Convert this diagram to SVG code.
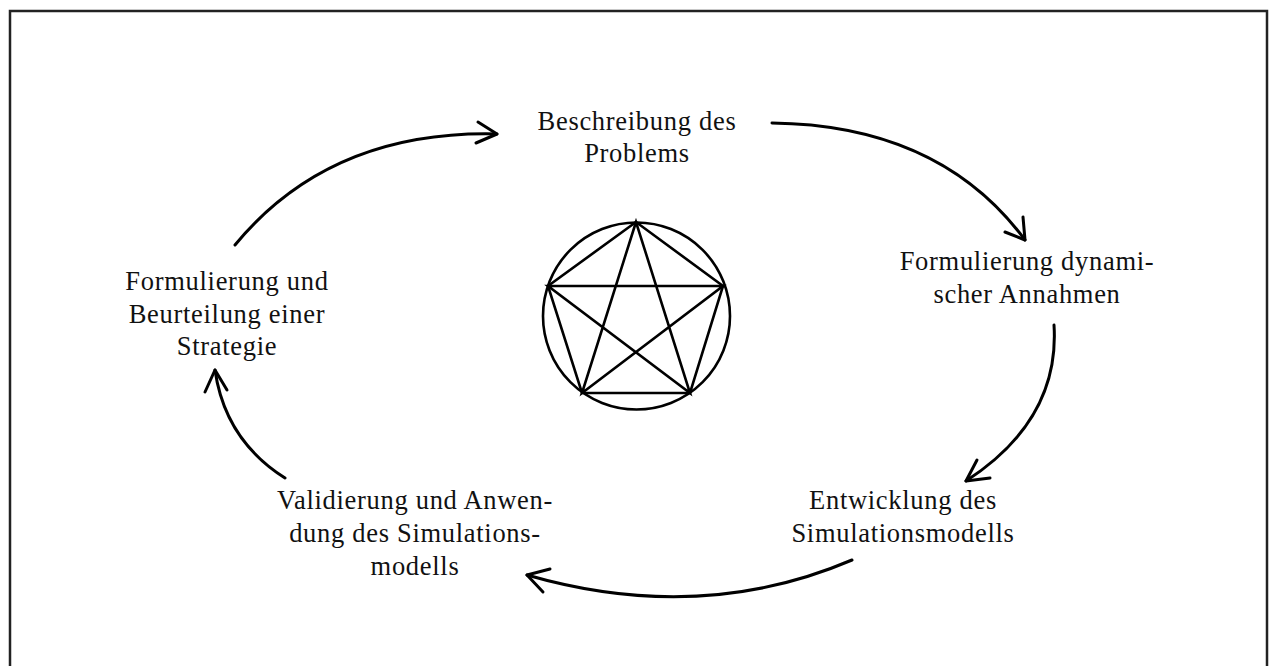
<svg xmlns="http://www.w3.org/2000/svg" width="1269" height="666" viewBox="0 0 1269 666">
<style>
.t{font-family:"Liberation Serif","Times New Roman",serif;font-size:26.5px;letter-spacing:0.7px;fill:#111;text-anchor:middle}
.c{fill:none;stroke:#000;stroke-width:3;stroke-linecap:round;stroke-linejoin:round}
.p{fill:none;stroke:#000;stroke-width:2.6;stroke-linecap:round}
</style>
<rect x="0" y="0" width="1269" height="666" fill="#fff"/>
<rect x="10" y="11" width="1257" height="680" fill="none" stroke="#222" stroke-width="2.5"/>
<g id="symbol">
<circle class="p" cx="636.5" cy="316" r="93.5"/>
<path class="p" d="M636,222 L548,286 L582,393 L690,393 L723,286 Z"/>
<path class="p" d="M636,222 L582,393 L723,286 L548,286 L690,393 Z"/>
</g>
<g id="node-problem"><text class="t" x="637" y="130">Beschreibung des</text><text class="t" x="637" y="162">Problems</text></g>
<g id="node-annahmen"><text class="t" x="1027" y="270">Formulierung dynami-</text><text class="t" x="1027" y="303">scher Annahmen</text></g>
<g id="node-entwicklung"><text class="t" x="903" y="509">Entwicklung des</text><text class="t" x="903" y="542">Simulationsmodells</text></g>
<g id="node-validierung"><text class="t" x="415" y="509">Validierung und Anwen-</text><text class="t" x="415" y="542">dung des Simulations-</text><text class="t" x="415" y="575">modells</text></g>
<g id="node-strategie"><text class="t" x="227" y="290">Formulierung und</text><text class="t" x="227" y="323">Beurteilung einer</text><text class="t" x="227" y="355">Strategie</text></g>
<g id="connectors">
<path class="c" d="M235,245 Q330,130 497,134"/>
<path class="c" d="M478,122 L497,134 L476,143"/>
<path class="c" d="M772,123 Q940,125 1025,240"/>
<path class="c" d="M1023,217 L1025,240 L1005,232"/>
<path class="c" d="M1054,325 Q1060,420 966,481"/>
<path class="c" d="M977,460 L966,481 L990,478"/>
<path class="c" d="M852,560 Q700,625 527,575"/>
<path class="c" d="M550,569 L527,575 L543,592"/>
<path class="c" d="M285,478 Q225,440 215,370"/>
<path class="c" d="M205,392 L215,370 L227,390"/>
</g>
</svg>
